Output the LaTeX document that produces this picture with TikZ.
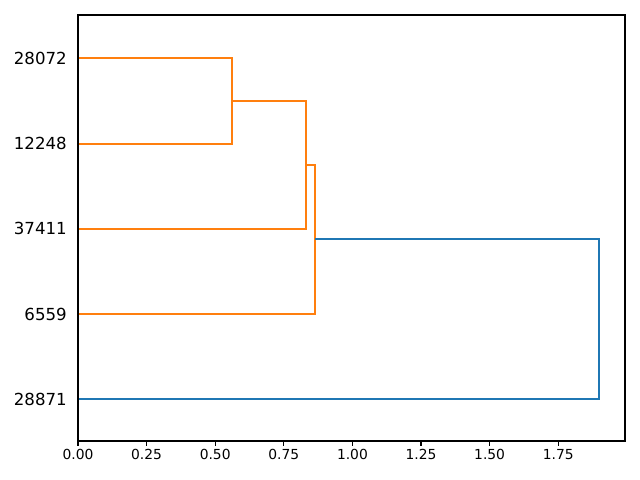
\documentclass[tikz,border=0pt]{standalone}
\usepackage{fontspec}
\setmainfont{DejaVu Sans}
\definecolor{mplorange}{HTML}{FF7F0E}
\definecolor{mplblue}{HTML}{1F77B4}
\begin{document}
\begin{tikzpicture}[x=0.72bp,y=-0.72bp,
  link/.style={line width=1.5bp,line cap=butt,line join=miter},
  oran/.style={link,draw=mplorange},
  blu/.style={link,draw=mplblue},
  leaflab/.style={anchor=east,font=\fontsize{12}{14}\selectfont,inner sep=0pt},
  ticklab/.style={anchor=north,font=\fontsize{10}{12}\selectfont,inner sep=0pt},
  tickmark/.style={line width=0.8bp}]
\useasboundingbox (0,0) rectangle (640,480);
% leaves
\coordinate (l1) at (78,58.4);
\coordinate (l2) at (78,143.6);
\coordinate (l3) at (78,228.8);
\coordinate (l4) at (78,314.0);
\coordinate (l5) at (78,399.2);
% joins
\coordinate (j1a) at (231.7,58.4);
\coordinate (j1b) at (231.7,143.6);
\coordinate (j1) at (231.7,101.0);
\coordinate (j2a) at (306.0,101.0);
\coordinate (j2b) at (306.0,228.8);
\coordinate (j2) at (306.0,164.9);
\coordinate (j3a) at (315.0,164.9);
\coordinate (j3b) at (315.0,314.0);
\coordinate (j3) at (315.0,239.45);
\coordinate (j4a) at (599.0,239.45);
\coordinate (j4b) at (599.0,399.2);
\draw[oran] (l1) -- (j1a) -- (j1b) -- (l2);
\draw[oran] (j1) -- (j2a) -- (j2b) -- (l3);
\draw[oran] (j2) -- (j3a) -- (j3b) -- (l4);
\draw[blu] (j3) -- (j4a) -- (j4b) -- (l5);
% axes frame
\draw[line width=0.8bp] (78,15) rectangle (625,441);
% leaf labels
\node[leaflab] (t1) at (67,58.4) {28072};
\node[leaflab] (t2) at (67,143.6) {12248};
\node[leaflab] (t3) at (67,228.8) {37411};
\node[leaflab] (t4) at (67,314.0) {6559};
\node[leaflab] (t5) at (67,399.2) {28871};
% x ticks
\foreach \v/\lab [count=\i] in {0/0.00,0.25/0.25,0.5/0.50,0.75/0.75,1/1.00,1.25/1.25,1.5/1.50,1.75/1.75}{
  \draw[tickmark] ({78+274.4*\v},441) -- ({78+274.4*\v},445.9);
  \node[ticklab] (x\i) at ({78+274.4*\v},449) {\lab};
}
\end{tikzpicture}
\end{document}
